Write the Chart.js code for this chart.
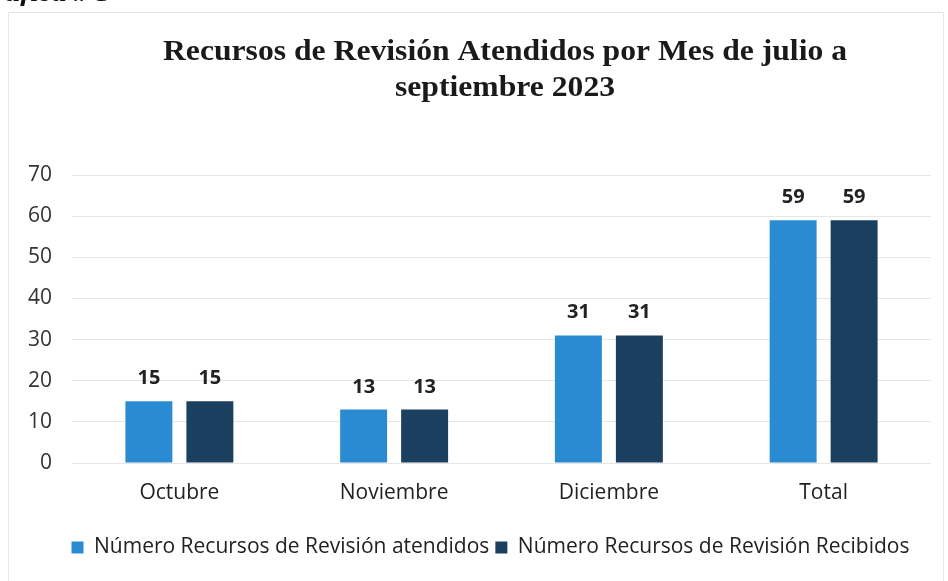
<!DOCTYPE html>
<html>
<head>
<meta charset="utf-8">
<script src="https://cdn.jsdelivr.net/npm/chart.js@4.4.0/dist/chart.umd.min.js"></script>
<style>
  html,body{margin:0;padding:0;background:#fff;}
  #wrap{position:relative;width:948px;height:581px;}
  canvas{display:block;}
</style>
</head>
<body>
<div id="wrap"><canvas id="c" width="948" height="581"></canvas></div>
<script>
const categories = ["Octubre", "Noviembre", "Diciembre", "Total"];
const atendidos = [15, 13, 31, 59];
const recibidos = [15, 13, 31, 59];
const seriesNames = ["Número Recursos de Revisión atendidos", "Número Recursos de Revisión Recibidos"];
const yTicks = [0, 10, 20, 30, 40, 50, 60, 70];
const titleLines = ["Recursos de Revisión Atendidos por Mes de julio a", "septiembre 2023"];
const headerText = "Gráfica # 5";

function stretchedText(ctx, text, cx, y, sx, align) {
  ctx.save();
  ctx.translate(cx, y);
  ctx.scale(sx, 1);
  ctx.textAlign = align;
  ctx.fillText(text, 0, 0);
  ctx.restore();
}

const decor = {
  id: 'decor',
  afterLayout(chart) {
    const lg = chart.legend;
    if (lg) { lg.left += 24; lg.right += 24; }
  },
  beforeDraw(chart) {
    const ctx = chart.ctx;
    ctx.save();
    ctx.fillStyle = '#fff';
    ctx.fillRect(0, 0, chart.width, chart.height);
    ctx.strokeStyle = '#e6e6e6';
    ctx.lineWidth = 1;
    ctx.beginPath();
    ctx.moveTo(8.5, 600); ctx.lineTo(8.5, 12.5); ctx.lineTo(943.5, 12.5); ctx.lineTo(943.5, 600);
    ctx.stroke();
    ctx.fillStyle = '#111';
    ctx.textBaseline = 'alphabetic';
    ctx.font = 'italic bold 26px "Liberation Serif"';
    stretchedText(ctx, headerText, -28, 1, 1.15, 'left');
    ctx.fillStyle = '#1a1a1a';
    ctx.font = 'bold 30px "Liberation Serif"';
    const w = ctx.measureText(titleLines[0]).width;
    const sx = 684 / w;
    stretchedText(ctx, titleLines[0], 505, 60, sx, 'center');
    stretchedText(ctx, titleLines[1], 505, 96, sx, 'center');
    ctx.restore();
  },
  afterDatasetsDraw(chart) {
    const ctx = chart.ctx;
    ctx.save();
    ctx.font = 'bold 20px "Open Sans"';
    ctx.fillStyle = '#222';
    ctx.textAlign = 'center';
    ctx.textBaseline = 'alphabetic';
    chart.data.datasets.forEach((ds, i) => {
      chart.getDatasetMeta(i).data.forEach((el, j) => {
        ctx.fillText(String(ds.data[j]), el.x, el.y - 17);
      });
    });
    ctx.restore();
  }
};

new Chart(document.getElementById('c'), {
  type: 'bar',
  data: {
    labels: categories,
    datasets: [
      { label: seriesNames[0], data: atendidos, backgroundColor: '#2b8bd2', categoryPercentage: 0.568, barPercentage: 0.77 },
      { label: seriesNames[1], data: recibidos, backgroundColor: '#1b3f5e', categoryPercentage: 0.568, barPercentage: 0.77 }
    ]
  },
  options: {
    responsive: false,
    animation: false,
    layout: { padding: { left: 2, right: 17, top: 175, bottom: 13 } },
    plugins: {
      legend: {
        position: 'bottom',
        labels: {
          boxWidth: 12, boxHeight: 12, padding: 6,
          color: '#222',
          font: { family: '"Open Sans"', size: 21 }
        }
      },
      title: { display: false },
      tooltip: { enabled: false }
    },
    scales: {
      x: {
        afterFit(scale) { scale.height = 68; },
        grid: { display: false, drawTicks: false },
        border: { display: false },
        ticks: { color: '#222', font: { family: '"Open Sans"', size: 21 }, padding: 17 }
      },
      y: {
        min: 0, max: 70,
        afterFit(scale) { scale.width = 70; },
        afterBuildTicks(scale) { scale.ticks = yTicks.map(v => ({ value: v })); },
        grid: { color: '#e6e6e6', drawTicks: false },
        border: { display: false },
        ticks: { color: '#333', font: { family: '"Open Sans"', size: 21 }, padding: 20 }
      }
    }
  },
  plugins: [decor]
});
</script>
</body>
</html>
